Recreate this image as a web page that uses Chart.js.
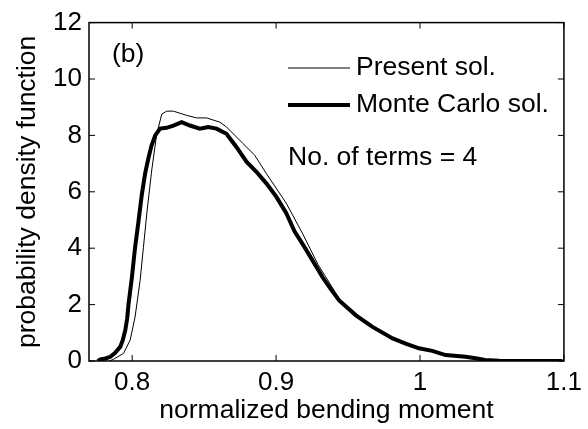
<!DOCTYPE html>
<html lang="en">
<head>
  <meta charset="UTF-8">
  <title>Probability density of normalized bending moment</title>
  <style>
    body {
      margin: 0;
      background: #fff;
    }
    #chart-container {
      width: 588px;
      height: 429px;
    }
  </style>
</head>
<body>
  <div id="chart-container">
    <canvas id="pdfChart" width="588" height="429"></canvas>
  </div>

  <script src="https://cdn.jsdelivr.net/npm/chart.js"></script>
  <script>
    // values
    const mcX = [0.776, 0.778, 0.7815, 0.7848, 0.788, 0.7917, 0.7935, 0.7952, 0.7965, 0.7975, 0.7998, 0.802,
      0.8044, 0.8067, 0.809, 0.8113, 0.8135, 0.816, 0.8194, 0.824, 0.8286, 0.8344, 0.8401, 0.847, 0.8528,
      0.8586, 0.8655, 0.8724, 0.8794, 0.8863, 0.8932, 0.9001, 0.907, 0.9128, 0.919, 0.9255, 0.9324, 0.938,
      0.944, 0.9555, 0.967, 0.981, 0.990, 0.9993, 1.0085, 1.0178, 1.0316, 1.0397, 1.045, 1.055, 1.075, 1.099];
    const mcY = [0, 0.06, 0.09, 0.15, 0.28, 0.5, 0.75, 1.09, 1.5, 2.03, 2.96, 4.02,
      4.96, 5.9, 6.65, 7.2, 7.65, 8.0, 8.24, 8.27, 8.35, 8.47, 8.35, 8.24, 8.3,
      8.24, 8.06, 7.59, 7.07, 6.71, 6.3, 5.83, 5.25, 4.6, 4.1, 3.55, 2.96, 2.55,
      2.14, 1.62, 1.21, 0.8, 0.62, 0.45, 0.36, 0.21, 0.15, 0.09, 0.04, 0.01, 0, 0];

    const psX = [0.784, 0.787, 0.794, 0.7986, 0.802, 0.8055, 0.8078, 0.8102, 0.8136, 0.8171, 0.8206, 0.824,
      0.8286, 0.8379, 0.8448, 0.8517, 0.8609, 0.8655, 0.877, 0.8851, 0.8932, 0.907, 0.9186, 0.929, 0.944,
      0.9555, 0.967, 0.981, 0.9993, 1.0178, 1.0316, 1.045, 1.06, 1.1];
    const psY = [0, 0.06, 0.27, 0.74, 1.56, 2.85, 4.02, 5.25, 6.77, 8.06, 8.76, 8.86,
      8.86, 8.71, 8.62, 8.62, 8.47, 8.3, 7.71, 7.3, 6.65, 5.6, 4.5, 3.43, 2.2,
      1.65, 1.23, 0.82, 0.46, 0.22, 0.13, 0.05, 0.01, 0];

    const xTicks = [0.8, 0.9, 1.0, 1.1];
    const yTicks = [0, 2, 4, 6, 8, 10, 12];

    const FONT = 'Liberation Sans, Arial, Helvetica, sans-serif';

    const toPoints = (xs, ys) => xs.map((x, i) => ({ x: x, y: ys[i] }));

    // axes box, inward ticks, legend and notes
    const frame = {
      id: 'frame',
      afterDraw(chart) {
        const ctx = chart.ctx;
        const a = chart.chartArea;
        const xs = chart.scales.x;
        const ys = chart.scales.y;
        ctx.save();
        ctx.strokeStyle = '#000';
        ctx.lineWidth = 1.5;
        ctx.strokeRect(a.left, a.top, a.right - a.left, a.bottom - a.top);
        ctx.lineWidth = 1;
        ctx.beginPath();
        xTicks.forEach(v => {
          const px = xs.getPixelForValue(v);
          ctx.moveTo(px, a.bottom); ctx.lineTo(px, a.bottom - 6);
          ctx.moveTo(px, a.top); ctx.lineTo(px, a.top + 6);
        });
        yTicks.forEach(v => {
          const py = ys.getPixelForValue(v);
          ctx.moveTo(a.left, py); ctx.lineTo(a.left + 6, py);
          ctx.moveTo(a.right, py); ctx.lineTo(a.right - 6, py);
        });
        ctx.stroke();

        ctx.fillStyle = '#000';
        ctx.font = '26.5px ' + FONT;
        ctx.textBaseline = 'middle';
        ctx.textAlign = 'left';
        ctx.fillText('(b)', 112, 55);

        const sets = chart.data.datasets;
        const rows = [68, 105];
        sets.forEach((ds, i) => {
          ctx.lineWidth = ds.borderWidth;
          ctx.strokeStyle = ds.borderColor;
          ctx.beginPath();
          ctx.moveTo(288, rows[i]);
          ctx.lineTo(350, rows[i]);
          ctx.stroke();
          ctx.fillText(ds.label, 356, rows[i]);
        });
        ctx.fillText('No. of terms = 4', 288, 158);
        ctx.restore();
      }
    };

    new Chart(document.getElementById('pdfChart'), {
      type: 'line',
      data: {
        datasets: [{
          label: 'Present sol.',
          data: toPoints(psX, psY),
          borderColor: '#000',
          borderWidth: 1,
          pointRadius: 0,
          tension: 0
        }, {
          label: 'Monte Carlo sol.',
          data: toPoints(mcX, mcY),
          borderColor: '#000',
          borderWidth: 4,
          pointRadius: 0,
          tension: 0
        }]
      },
      options: {
        responsive: false,
        animation: false,
        layout: {
          padding: { top: 19, right: 22, left: 0, bottom: 0 }
        },
        plugins: {
          legend: { display: false },
          tooltip: { enabled: false }
        },
        scales: {
          x: {
            type: 'linear',
            min: 0.77,
            max: 1.1,
            grid: { display: false, drawTicks: false },
            border: { display: false },
            afterBuildTicks: s => { s.ticks = xTicks.map(v => ({ value: v })); },
            afterFit: s => { s.height = 68; },
            ticks: {
              padding: 6,
              color: '#000',
              font: { family: FONT, size: 26 },
              callback: v => String(+v.toFixed(1))
            },
            title: {
              display: true,
              text: 'normalized bending moment',
              color: '#000',
              font: { family: FONT, size: 26.5 },
              padding: { top: 0, bottom: 2 }
            }
          },
          y: {
            min: 0,
            max: 12,
            grid: { display: false, drawTicks: false },
            border: { display: false },
            afterBuildTicks: s => { s.ticks = yTicks.map(v => ({ value: v })); },
            afterFit: s => { s.width = 89; },
            ticks: {
              padding: 7,
              color: '#000',
              font: { family: FONT, size: 26 }
            },
            title: {
              display: true,
              text: 'probability density function',
              color: '#000',
              font: { family: FONT, size: 26.5 },
              padding: { top: 12, bottom: 0 }
            }
          }
        }
      },
      plugins: [frame]
    });
  </script>
</body>
</html>
